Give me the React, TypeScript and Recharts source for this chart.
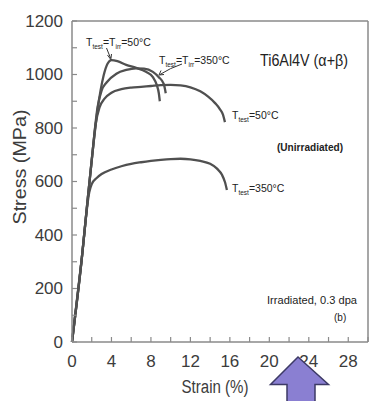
import React from 'react';
import { LineChart, Line, XAxis, YAxis } from 'recharts';

// axis ticks
const xTicks = [0, 2, 4, 6, 8, 10, 12, 14, 16, 18, 20, 22, 24, 26, 28, 30];
const xLabels = [0, 4, 8, 12, 16, 20, 24, 28];
const yTicks = [0, 100, 200, 300, 400, 500, 600, 700, 800, 900, 1000, 1100, 1200];
const yLabels = [0, 200, 400, 600, 800, 1000, 1200];

// Ttest = Tirr = 50°C (irradiated)
const strainIrr50 = [0, 1, 1.5, 2, 2.6, 3.2, 3.6, 4.0, 4.6, 5.5, 6.5, 7.5, 8.2, 8.6, 8.8, 8.9];
const stressIrr50 = [0, 315, 500, 680, 870, 995, 1040, 1054, 1050, 1036, 1025, 1010, 990, 960, 930, 900];

// Ttest = Tirr = 350°C (irradiated)
const strainIrr350 = [0, 1, 1.5, 2, 2.6, 3.0, 3.5, 4.5, 5.5, 6.5, 7.3, 8.2, 8.8, 9.3, 9.5];
const stressIrr350 = [0, 315, 500, 680, 880, 940, 970, 1003, 1017, 1023, 1022, 1010, 990, 965, 930];

// Ttest = 50°C (unirradiated)
const strainUnirr50 = [0, 1, 1.5, 2, 2.4, 2.8, 3.3, 4, 5, 6, 7, 8, 9, 10, 11, 12, 13, 13.8, 14.5, 15, 15.3, 15.5];
const stressUnirr50 = [0, 315, 500, 680, 815, 878, 910, 932, 945, 951, 954, 957, 960, 961, 959, 952, 937, 917, 893, 870, 850, 822];

// Ttest = 350°C (unirradiated)
const strainUnirr350 = [0, 1, 1.75, 2.0, 2.5, 3, 4, 5, 6, 7, 8, 9, 10, 11, 12, 13, 14, 14.7, 15.2, 15.5, 15.7];
const stressUnirr350 = [0, 315, 560, 590, 613, 628, 645, 657, 666, 672, 677, 681, 684, 685, 683, 677, 666, 648, 625, 598, 568];

const toPoints = (xs: number[], ys: number[]) => xs.map((x, i) => ({ strain: x, stress: ys[i] }));

const AXIS = '#8a8a8a';
const INK = '#3c3c3c';
const CURVE = '#505050';
const TICK_FONT = '"Liberation Sans", Arial, sans-serif';

const BottomTick = (props: any) => {
  const { x, y, payload } = props;
  const v = payload.value;
  return (
    <g>
      <line x1={x} y1={y} x2={x} y2={y - 5} stroke={AXIS} strokeWidth={1.2} />
      {xLabels.includes(v) && (
        <text x={x} y={y + 19} textAnchor="middle" dominantBaseline="central" fontSize={17} fill={INK} fontFamily={TICK_FONT}>
          {v}
        </text>
      )}
    </g>
  );
};

const TopTick = (props: any) => {
  const { x, y } = props;
  return <line x1={x} y1={y} x2={x} y2={y + 5} stroke={AXIS} strokeWidth={1.2} />;
};

const LeftTick = (props: any) => {
  const { x, y, payload } = props;
  const v = payload.value;
  return (
    <g>
      <line x1={x} y1={y} x2={x + 5} y2={y} stroke={AXIS} strokeWidth={1.2} />
      {yLabels.includes(v) && (
        <text x={x - 9} y={y} textAnchor="end" dominantBaseline="central" fontSize={17} fill={INK} fontFamily={TICK_FONT}>
          {v}
        </text>
      )}
    </g>
  );
};

const RightTick = (props: any) => {
  const { x, y } = props;
  return <line x1={x} y1={y} x2={x - 5} y2={y} stroke={AXIS} strokeWidth={1.2} />;
};

const Sub = ({ children }: { children: string }) => (
  <tspan fontSize={6.5} dy={3}>{children}</tspan>
);

const Annotations = () => (
  <svg width={381} height={401} style={{ position: 'absolute', left: 0, top: 0, pointerEvents: 'none' }}>
    <g fontFamily={TICK_FONT} fill="#222">
      <text x={86} y={46} fontSize={10.5}>
        T<Sub>test</Sub><tspan dy={-3}>=T</tspan><Sub>irr</Sub><tspan dy={-3}>=50°C</tspan>
      </text>
      <text x={159} y={64} fontSize={10.5}>
        T<Sub>test</Sub><tspan dy={-3}>=T</tspan><Sub>irr</Sub><tspan dy={-3}>=350°C</tspan>
      </text>
      <text x={260} y={66} fontSize={16} textLength={88} lengthAdjust="spacingAndGlyphs">Ti6Al4V (α+β)</text>
      <text x={232} y={119} fontSize={10.5}>
        T<Sub>test</Sub><tspan dy={-3}>=50°C</tspan>
      </text>
      <text x={277} y={151} fontSize={10} fontWeight="bold" textLength={66} lengthAdjust="spacingAndGlyphs">(Unirradiated)</text>
      <text x={232} y={192} fontSize={10.5}>
        T<Sub>test</Sub><tspan dy={-3}>=350°C</tspan>
      </text>
      <text x={267} y={304} fontSize={10.5} textLength={90} lengthAdjust="spacingAndGlyphs">Irradiated, 0.3 dpa</text>
      <text x={334} y={321} fontSize={10}>(b)</text>
    </g>
    <g stroke="#333" strokeWidth={1} fill="none">
      <line x1={106.5} y1={48} x2={110.5} y2={58} />
      <path d="M107.5 55 L110.8 59.5 L111.5 54" />
      <path d="M182 64 Q170 68 160 74.5" />
      <path d="M161 70.5 L159 75 L164 74.5" />
    </g>
    <g fontFamily={TICK_FONT} fill={INK}>
      <text x={215} y={387} fontSize={18} textAnchor="middle" dominantBaseline="central" textLength={67} lengthAdjust="spacingAndGlyphs">
        Strain (%)
      </text>
      <text
        x={20}
        y={167}
        fontSize={18}
        textAnchor="middle"
        dominantBaseline="central"
        transform="rotate(-90 20 167)"
        textLength={115}
        lengthAdjust="spacingAndGlyphs"
      >
        Stress (MPa)
      </text>
    </g>
    <polygon
      points="298,357 270.5,384.5 287,384.5 287,402 315,402 315,384.5 328.5,384.5"
      fill="#8a7fd2"
      stroke="#3d3a66"
      strokeWidth={1.5}
    />
  </svg>
);

const App: React.FC = () => {
  return (
    <div style={{ position: 'absolute', left: 0, top: 0, width: 381, height: 401, background: '#fff' }}>
      <LineChart width={381} height={401} margin={{ top: 0, right: 0, left: 0, bottom: 0 }}>
        <XAxis
          dataKey="strain"
          type="number"
          domain={[0, 30]}
          ticks={xTicks}
          interval={0}
          height={59}
          tickSize={0}
          tickMargin={0}
          tickLine={false}
          tick={<BottomTick />}
          axisLine={{ stroke: AXIS, strokeWidth: 1.5 }}
        />
        <XAxis
          xAxisId="top"
          orientation="top"
          type="number"
          domain={[0, 30]}
          ticks={xTicks}
          interval={0}
          height={21}
          tickSize={0}
          tickMargin={0}
          tickLine={false}
          tick={<TopTick />}
          axisLine={{ stroke: AXIS, strokeWidth: 1.5 }}
        />
        <YAxis
          type="number"
          domain={[0, 1200]}
          ticks={yTicks}
          interval={0}
          width={72}
          tickSize={0}
          tickMargin={0}
          tickLine={false}
          tick={<LeftTick />}
          axisLine={{ stroke: AXIS, strokeWidth: 1.5 }}
        />
        <YAxis
          yAxisId="right"
          orientation="right"
          type="number"
          domain={[0, 1200]}
          ticks={yTicks}
          interval={0}
          width={13}
          tickSize={0}
          tickMargin={0}
          tickLine={false}
          tick={<RightTick />}
          axisLine={{ stroke: AXIS, strokeWidth: 1.5 }}
        />
        <Line data={toPoints(strainUnirr350, stressUnirr350)} dataKey="stress" type="monotone" dot={false} stroke={CURVE} strokeWidth={2.3} isAnimationActive={false} />
        <Line data={toPoints(strainUnirr50, stressUnirr50)} dataKey="stress" type="monotone" dot={false} stroke={CURVE} strokeWidth={2.3} isAnimationActive={false} />
        <Line data={toPoints(strainIrr350, stressIrr350)} dataKey="stress" type="monotone" dot={false} stroke={CURVE} strokeWidth={2.3} isAnimationActive={false} />
        <Line data={toPoints(strainIrr50, stressIrr50)} dataKey="stress" type="monotone" dot={false} stroke={CURVE} strokeWidth={2.3} isAnimationActive={false} />
      </LineChart>
      <Annotations />
    </div>
  );
};

export default App;
